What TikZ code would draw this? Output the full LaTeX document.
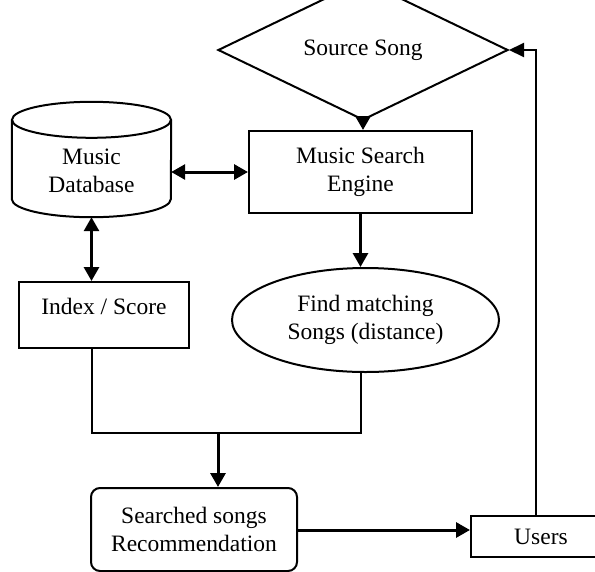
\documentclass[tikz,border=0pt]{standalone}
\usepackage{fontspec}
\setmainfont{Liberation Serif}
\usepackage{tikz}
\usetikzlibrary{arrows.meta,positioning,shapes.geometric}
\tikzset{
  lbl/.style    ={font=\fontsize{23.5}{28.5}\selectfont,align=center,inner sep=0pt},
  procbox/.style={rectangle,draw,line width=2pt,inner sep=0pt,lbl},
  decide/.style ={diamond,draw,line width=2pt,inner sep=0pt,lbl},
  oval/.style   ={ellipse,draw,line width=2pt,inner sep=0pt,lbl},
  store/.style  ={rectangle,inner sep=0pt},
  outbox/.style ={procbox,rounded corners=9pt},
  mainflow/.style={line width=3pt,-{Triangle[length=14pt,width=15pt]}},
  twoway/.style ={line width=3pt,{Triangle[length=14pt,width=15pt]}-{Triangle[length=14pt,width=15pt]}},
  joinline/.style={line width=2pt},
  backflow/.style={line width=2pt,-{Triangle[length=15pt,width=14pt]}},
}
\begin{document}
\begin{tikzpicture}[x=1pt,y=-1pt]
  \useasboundingbox (0,0) rectangle (595,571);
  \clip (0,0) rectangle (595,571);
  \node[decide,minimum width=290pt,minimum height=77pt] (src) at (363,50){Source Song};
  \node[procbox,minimum width=223pt,minimum height=82pt] (engine) at (360.5,172){Music Search\\Engine};
  % database drum, drawn from its node corners
  \node[store,minimum width=159pt,minimum height=115pt] (db) at (91.5,159.5){};
  \draw[line width=2pt] ([yshift=-18pt]db.north west) -- ([yshift=18pt]db.south west)
    arc[start angle=180,end angle=360,x radius=79.5pt,y radius=18pt] -- ([yshift=-18pt]db.north east);
  \draw[line width=2pt] ([yshift=-18pt]db.north) ellipse[x radius=79.5pt,y radius=18pt];
  \node[lbl] (dbtext) at (91.5,171){Music\\Database};
  \node[procbox,minimum width=170pt,minimum height=66pt] (idx) at (104,315){};
  \node[lbl] (idxtext) at (104,306){Index / Score};
  \node[oval,minimum width=267pt,minimum height=104pt] (match) at (365.5,320){Find matching\\Songs (distance)};
  \node[outbox,minimum width=206pt,minimum height=83pt] (rec) at (194,529.5){Searched songs\\Recommendation};
  \node[procbox,minimum width=140pt,minimum height=41pt] (users) at (541,536.5){Users};
  \coordinate (join) at (218,433);
  \draw[mainflow] (src.south) -- (src.south |- engine.north);
  \draw[twoway] (db.east |- engine.west) -- (engine.west);
  \draw[twoway] (db.south |- idx.north) -- (db.south);
  \draw[mainflow] (engine.south) -- (engine.south |- match.north);
  \draw[joinline] (db.south |- idx.south) |- (join) -| (engine.south |- match.south);
  \draw[mainflow] (join) -- (join |- rec.north);
  \draw[mainflow] (rec.east |- 0,530) -- (users.west |- 0,530);
  \draw[backflow] (users.north -| 536,0) |- (src.east);
\end{tikzpicture}
\end{document}
